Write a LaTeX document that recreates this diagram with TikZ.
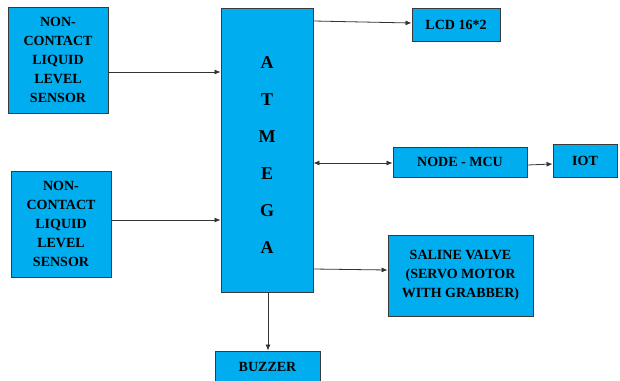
\documentclass[tikz,border=0pt]{standalone}
\usepackage{fontspec}
\setmainfont{Liberation Serif}[BoldFont={Liberation Serif Bold}]
\newfontfamily\blkfont{Liberation Serif Bold}
\usetikzlibrary{arrows.meta}
\definecolor{boxblue}{HTML}{00AEEF}
\definecolor{boxline}{HTML}{3A3A3A}
\tikzset{
  blk/.style={draw=boxline, line width=0.9pt, fill=boxblue, inner sep=0pt,
    font=\blkfont\fontsize{14}{19}\selectfont, align=center},
  conn/.style={draw=black!80, line width=0.8pt, -{Latex[length=6pt,width=5pt]}},
}
\begin{document}
\begin{tikzpicture}[x=1pt,y=-1pt]
\useasboundingbox (0,0) rectangle (620,380);
\node[blk, minimum width=100, minimum height=106] (s1) at (58,60)
  {NON-\\CONTACT\\LIQUID\\LEVEL\\SENSOR};
\node[blk, minimum width=100, minimum height=106] (s2) at (61,224)
  {NON-\\CONTACT\\LIQUID\\LEVEL\\SENSOR};
\node[blk, minimum width=92, minimum height=284] (mc) at (267,150) {};
\node[font=\blkfont\fontsize{18}{37}\selectfont, align=center] (lbl) at (267,155)
  {A\\T\\M\\E\\G\\A};
\node[blk, minimum width=88, minimum height=33] (lcd) at (456,24.5) {LCD 16*2};
\node[blk, minimum width=134, minimum height=30] (nm) at (460,162) {NODE - MCU};
\node[blk, minimum width=64, minimum height=33] (iot) at (585,160.5) {IOT};
\node[blk, minimum width=145, minimum height=81] (sv) at (460.5,275.5)
  {SALINE VALVE\\(SERVO MOTOR\\WITH GRABBER)};
\node[blk, minimum width=105, minimum height=32] (bz) at (267.5,367) {BUZZER};
\draw[conn] (s1.east |- 0,72) -- (mc.west |- 0,72);
\draw[conn] (s2.east |- 0,220) -- (mc.west |- 0,220);
\draw[conn] (mc.east |- 0,21) -- (lcd.west |- 0,23);
\draw[conn, {Latex[length=6pt,width=5pt]}-{Latex[length=6pt,width=5pt]}] (mc.east |- 0,163) -- (nm.west |- 0,163);
\draw[conn] (nm.east |- 0,165) -- (iot.west |- 0,164);
\draw[conn] (mc.east |- 0,269) -- (sv.west |- 0,270);
\draw[conn] (mc.south -| 268,0) -- (bz.north -| 268,0);
\end{tikzpicture}
\end{document}
